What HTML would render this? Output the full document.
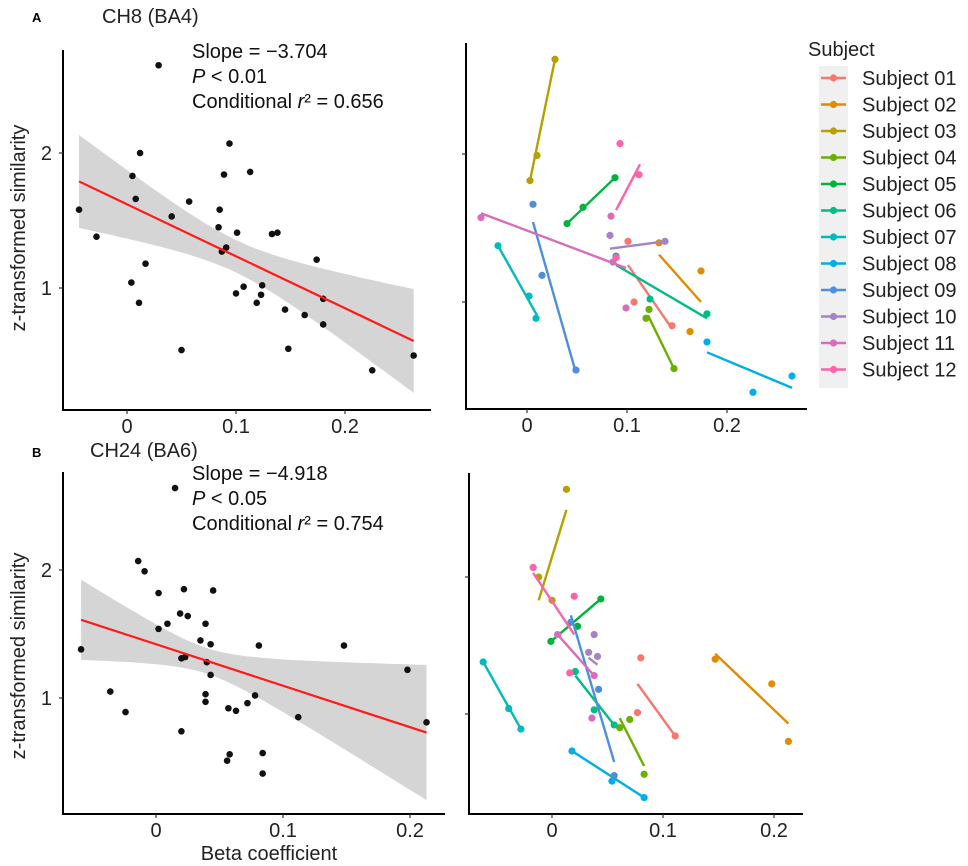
<!DOCTYPE html>
<html><head><meta charset="utf-8"><style>
html,body{margin:0;padding:0;background:#fff;}
svg{display:block;font-family:"Liberation Sans",Arial,sans-serif;}
</style></head><body>
<svg id="fig" width="968" height="866" viewBox="0 0 968 866" xmlns="http://www.w3.org/2000/svg">
<g id="static">
<text x="32" y="22" font-size="13" font-weight="bold">A</text>
<text x="102" y="23" font-size="20" fill="#222">CH8 (BA4)</text>
<text x="192" y="58" font-size="20" fill="#111">Slope = −3.704</text>
<text x="192" y="83" font-size="20" fill="#111"><tspan font-style="italic">P</tspan> &lt; 0.01</text>
<text x="192" y="108" font-size="20" fill="#111">Conditional <tspan font-style="italic">r</tspan>² = 0.656</text>
<text x="32" y="457" font-size="13" font-weight="bold">B</text>
<text x="90" y="457" font-size="20" fill="#222">CH24 (BA6)</text>
<text x="192" y="480" font-size="20" fill="#111">Slope = −4.918</text>
<text x="192" y="505" font-size="20" fill="#111"><tspan font-style="italic">P</tspan> &lt; 0.05</text>
<text x="192" y="530" font-size="20" fill="#111">Conditional <tspan font-style="italic">r</tspan>² = 0.754</text>
<text transform="translate(25,228) rotate(-90)" text-anchor="middle" font-size="20" fill="#222">z-transformed similarity</text>
<text transform="translate(25,656) rotate(-90)" text-anchor="middle" font-size="20" fill="#222">z-transformed similarity</text>
<text x="269" y="860" text-anchor="middle" font-size="20" fill="#222">Beta coefficient</text>
</g>
</svg>
<script>
// Panel A left (pooled)
const aPoolX=[0.029,-0.044,-0.028,0.012,0.005,0.008,0.004,0.011,0.017,0.041,0.050,0.057,0.084,0.085,0.089,0.094,0.087,0.091,0.101,0.100,0.107,0.113,0.119,0.123,0.124,0.133,0.138,0.145,0.148,0.163,0.174,0.180,0.180,0.225,0.263];
const aPoolY=[2.65,1.58,1.38,2.00,1.83,1.66,1.04,0.89,1.18,1.53,0.54,1.64,1.45,1.58,1.84,2.07,1.27,1.30,1.41,0.96,1.01,1.86,0.89,0.95,1.02,1.40,1.41,0.84,0.55,0.80,1.21,0.92,0.73,0.39,0.50];
const aFit=[1.62,-3.85,0.10,0.12,2.24]; // intercept, slope, x-mean, se0, se-k
// Panel B left (pooled)
const bPoolX=[0.015,-0.014,-0.009,0.002,0.002,0.009,-0.059,-0.036,-0.024,0.019,0.022,0.025,0.035,0.039,0.045,0.043,0.040,0.020,0.023,0.020,0.039,0.039,0.043,0.057,0.063,0.072,0.078,0.081,0.058,0.056,0.084,0.084,0.112,0.148,0.198,0.213];
const bPoolY=[2.64,2.07,1.99,1.82,1.54,1.58,1.38,1.05,0.89,1.66,1.85,1.64,1.45,1.58,1.84,1.42,1.28,1.31,1.32,0.74,1.03,0.97,1.18,0.92,0.90,0.96,1.02,1.41,0.56,0.51,0.57,0.41,0.85,1.41,1.22,0.81];
const bFit=[1.42,-3.24,0.04,0.10,3.0];
const subjects=["Subject 01","Subject 02","Subject 03","Subject 04","Subject 05","Subject 06","Subject 07","Subject 08","Subject 09","Subject 10","Subject 11","Subject 12"];
const subjColors=["#F8766D","#E08B00","#B79F00","#6BAF00","#00B33C","#00BD85","#00BBBE","#00AEEA","#4E8FDB","#A682C6","#D86DBB","#FF62A8"];
// Panel A right: per-subject points and fitted segment
const aSubjX=[[0.101,0.107,0.145],[0.132,0.174,0.163],[0.003,0.010,0.028],[0.119,0.122,0.147],[0.040,0.056,0.088],[0.089,0.123,0.180],[-0.029,0.002,0.009],[0.180,0.226,0.265],[0.006,0.015,0.049],[0.083,0.138,0.086],[-0.046,0.084,0.099],[0.093,0.112,0.089]];
const aSubjY=[[1.41,1.00,0.84],[1.40,1.21,0.80],[1.82,1.99,2.64],[0.89,0.95,0.55],[1.53,1.64,1.84],[1.31,1.02,0.92],[1.38,1.04,0.89],[0.73,0.39,0.50],[1.66,1.18,0.54],[1.45,1.41,1.27],[1.57,1.58,0.96],[2.07,1.86,1.30]];
const aLineX=[[0.101,0.145],[0.132,0.174],[0.003,0.028],[0.121,0.147],[0.040,0.088],[0.089,0.180],[-0.029,0.010],[0.180,0.265],[0.006,0.049],[0.083,0.138],[-0.046,0.099],[0.089,0.113]];
const aLineY=[[1.25,0.82],[1.32,1.00],[1.82,2.64],[0.91,0.55],[1.53,1.84],[1.25,0.89],[1.38,0.91],[0.66,0.42],[1.54,0.52],[1.36,1.41],[1.60,1.23],[1.62,1.93]];
// Panel B right
const bSubjX=[[0.080,0.077,0.111],[0.147,0.198,0.213],[0.013,-0.012,0.000],[0.061,0.070,0.083],[-0.001,0.023,0.044],[0.021,0.038,0.056],[-0.062,-0.039,-0.028],[0.018,0.054,0.083],[0.017,0.042,0.056],[0.038,0.033,0.041],[0.005,0.038,0.036],[-0.017,0.020,0.016]];
const bSubjY=[[1.41,1.01,0.84],[1.40,1.22,0.80],[2.64,2.00,1.83],[0.90,0.96,0.56],[1.53,1.64,1.84],[1.31,1.03,0.92],[1.38,1.04,0.89],[0.73,0.51,0.39],[1.67,1.18,0.55],[1.58,1.45,1.42],[1.58,1.28,0.97],[2.07,1.86,1.30]];
const bLineX=[[0.077,0.111],[0.147,0.213],[-0.012,0.013],[0.061,0.083],[-0.001,0.044],[0.021,0.056],[-0.062,-0.028],[0.018,0.083],[0.017,0.056],[0.033,0.041],[0.005,0.038],[-0.017,0.020]];
const bLineY=[[1.22,0.84],[1.44,0.93],[1.83,2.49],[0.97,0.62],[1.53,1.84],[1.28,0.92],[1.38,0.89],[0.73,0.39],[1.72,0.65],[1.41,1.36],[1.58,1.28],[2.03,1.58]];
const xTicks=[0,0.1,0.2];
const xTickLabels=["0","0.1","0.2"];
const yTicks=[1,2];
const yTickLabels=["1","2"];

const NS="http://www.w3.org/2000/svg";
const svg=document.getElementById('fig');
function mk(tag,attrs,parent){const e=document.createElementNS(NS,tag);for(const k in attrs)e.setAttribute(k,attrs[k]);(parent||svg).appendChild(e);return e;}

const panels={
 aL:{x0:127,kx:1090,y1:288,ky:135,L:63,T:50,R:431,B:410},
 aR:{x0:527,kx:1000,y1:302,ky:148,L:466,T:43,R:807,B:409},
 bL:{x0:156,kx:1270,y1:698,ky:128,L:63,T:472,R:445,B:814},
 bR:{x0:552,kx:1110,y1:714,ky:137,L:469,T:473,R:803,B:814}
};
function sx(p,v){return p.x0+v*p.kx;}
function sy(p,v){return p.y1-(v-1)*p.ky;}

function axes(p,name,showYLab){
  const g=mk('g',{});
  
  
  const yl=mk('line',{x1:p.L,y1:p.T,x2:p.L,y2:p.B+1,stroke:'#000','stroke-width':2},g);
  
  
  const xl=mk('line',{x1:p.L-1,y1:p.B,x2:p.R,y2:p.B,stroke:'#000','stroke-width':2},g);
  
  
  xTicks.forEach((t,i)=>{
    const X=sx(p,t);
    const tk=mk('line',{x1:X,y1:p.B,x2:X,y2:p.B+4,stroke:'#333','stroke-width':1.2},g);
    
    
    const tx=mk('text',{x:X,y:p.B+23,'text-anchor':'middle','font-size':20,fill:'#222'},g);
    tx.textContent=xTickLabels[i];
    
    
  });
  yTicks.forEach((t,i)=>{
    const Y=sy(p,t);
    const tk=mk('line',{x1:p.L-4,y1:Y,x2:p.L,y2:Y,stroke:'#333','stroke-width':1.2},g);
    
    
    if(showYLab){
      const tx=mk('text',{x:p.L-11,y:Y+7,'text-anchor':'end','font-size':20,fill:'#222'},g);
      tx.textContent=yTickLabels[i];
      
      
    }
  });
}

function pooled(p,name,xs,ys,fit){
  const lo=Math.min(...xs),hi=Math.max(...xs);
  const n=40;let up=[],dn=[];
  for(let i=0;i<=n;i++){const x=lo+(hi-lo)*i/n;const m=fit[0]+fit[1]*x;const h=Math.sqrt(fit[3]*fit[3]+fit[4]*fit[4]*(x-fit[2])*(x-fit[2]));
    up.push(sx(p,x).toFixed(1)+','+sy(p,m+h).toFixed(1));dn.unshift(sx(p,x).toFixed(1)+','+sy(p,m-h).toFixed(1));}
  const rib=mk('polygon',{points:up.concat(dn).join(' '),fill:'#d6d5d6'});
  
  
  xs.forEach((x,i)=>{
    const c=mk('circle',{cx:sx(p,x),cy:sy(p,ys[i]),r:3.3,fill:'#111'});
    
    
  });
  const l=mk('line',{x1:sx(p,lo),y1:sy(p,fit[0]+fit[1]*lo),x2:sx(p,hi),y2:sy(p,fit[0]+fit[1]*hi),stroke:'#ff1a1a','stroke-width':2.2});
  
  
}

function bySubject(p,name,SX,SY,LX,LY){
  SX.forEach((xs,s)=>{
    const col=subjColors[s];
    const g=mk('g',{});
    
    
    const l=mk('line',{x1:sx(p,LX[s][0]),y1:sy(p,LY[s][0]),x2:sx(p,LX[s][1]),y2:sy(p,LY[s][1]),stroke:col,'stroke-width':2.4},g);
    
    
    xs.forEach((x,i)=>{
      const c=mk('circle',{cx:sx(p,x),cy:sy(p,SY[s][i]),r:3.6,fill:col},g);
      
      
    });
  });
}

pooled(panels.aL,'panel-a-left',aPoolX,aPoolY,aFit);
axes(panels.aL,'panel-a-left',true);
bySubject(panels.aR,'panel-a-right',aSubjX,aSubjY,aLineX,aLineY);
axes(panels.aR,'panel-a-right',false);
pooled(panels.bL,'panel-b-left',bPoolX,bPoolY,bFit);
axes(panels.bL,'panel-b-left',true);
bySubject(panels.bR,'panel-b-right',bSubjX,bSubjY,bLineX,bLineY);
axes(panels.bR,'panel-b-right',false);

const lg=mk('g',{});


const lt=mk('text',{x:808,y:56,'font-size':20,fill:'#222'},lg);
lt.textContent='Subject';


const bg=mk('rect',{x:819,y:66,width:29,height:322,fill:'#f0f0f0'},lg);


subjects.forEach((s,i)=>{
  const y=78+i*26.5;
  const e=mk('g',{},lg);
  
  
  mk('line',{x1:821,y1:y,x2:846,y2:y,stroke:subjColors[i],'stroke-width':2.4},e);
  mk('circle',{cx:833.5,cy:y,r:3.6,fill:subjColors[i]},e);
  const t=mk('text',{x:862,y:y+7,'font-size':20,fill:'#222'},e);
  t.textContent=s;
});
</script>
</body></html>
